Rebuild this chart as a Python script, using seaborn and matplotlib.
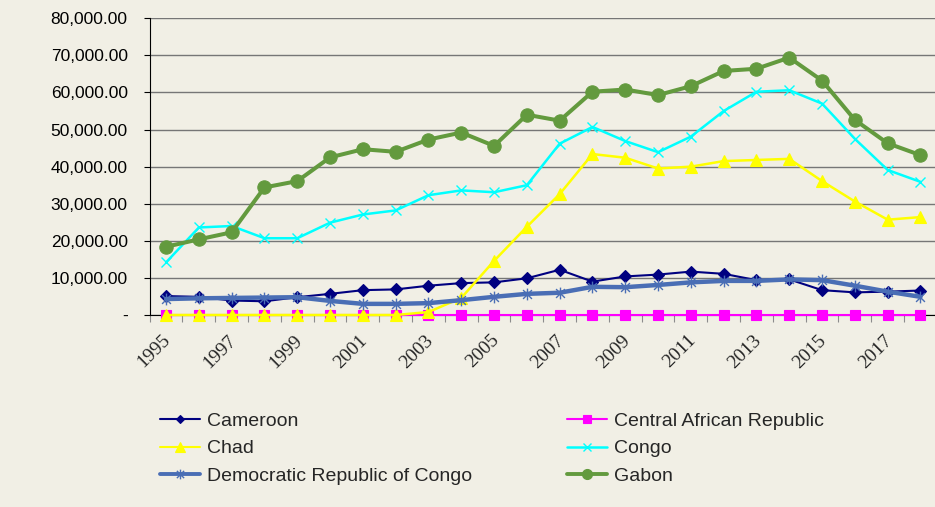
import matplotlib
matplotlib.use("Agg")
import matplotlib.pyplot as plt
import matplotlib.transforms as mtransforms
from matplotlib.lines import Line2D
from matplotlib.path import Path
from matplotlib.ticker import FuncFormatter, MultipleLocator
import pandas as pd
import seaborn as sns

years = list(range(1995, 2019))
cameroon = [5100, 4900, 3900, 3700, 4800, 5700, 6700, 6900, 7900, 8600, 8800, 9900,
            12200, 9000, 10400, 10900, 11700, 11100, 9400, 9600, 6700, 6100, 6300, 6600]
car = [0, 0, 0, 0, 0, 0, 0, 0, 0, 0, 0, 0,
       0, 0, 0, 0, 0, 0, 0, 0, 0, 0, 0, 0]
chad = [0, 0, 0, 0, 0, 0, 0, 0, 800, 4600, 14600, 23800,
        32600, 43400, 42400, 39500, 40000, 41500, 41800, 42100, 36100, 30600, 25700, 26400]
congo = [14200, 23600, 24000, 20700, 20700, 24900, 27100, 28200, 32300, 33600, 33100, 35000,
         46200, 50700, 46900, 43900, 48100, 55000, 60200, 60600, 57000, 47500, 39100, 35900]
drc = [4300, 4500, 4600, 4700, 4800, 3800, 3000, 3000, 3200, 4000, 4900, 5700,
       6000, 7600, 7500, 8100, 8800, 9200, 9200, 9600, 9400, 7900, 6300, 4900]
gabon = [18400, 20400, 22300, 34400, 36100, 42500, 44700, 44000, 47300, 49200, 45600, 54000,
         52400, 60200, 60800, 59300, 61700, 65800, 66400, 69400, 63200, 52600, 46300, 43100]

names = ["Cameroon", "Central African Republic", "Chad", "Congo",
         "Democratic Republic of Congo", "Gabon"]
values = [cameroon, car, chad, congo, drc, gabon]
legend_order = ["Cameroon", "Chad", "Democratic Republic of Congo",
                "Central African Republic", "Congo", "Gabon"]
year_labels = ["1995", "1997", "1999", "2001", "2003", "2005",
               "2007", "2009", "2011", "2013", "2015", "2017"]

star = Path([(0, -1), (0, 1), (-0.75, -0.75), (0.75, 0.75), (-0.75, 0.75), (0.75, -0.75)],
            [Path.MOVETO, Path.LINETO, Path.MOVETO, Path.LINETO, Path.MOVETO, Path.LINETO])

styles = {
    "Cameroon": dict(color="#000080", marker="D", lw=1.5, ms=6.0, mew=0.8, lms=4.0, llw=1.5),
    "Central African Republic": dict(color="#FF00FF", marker="s", lw=1.5, ms=7.8, mew=0.8, lms=6.0, llw=1.5),
    "Chad": dict(color="#FFFF00", marker="^", lw=1.8, ms=8.5, mew=0.8, lms=7.0, llw=1.5),
    "Congo": dict(color="#00FFFF", marker="x", lw=1.8, ms=7.8, mew=1.0, lms=6.0, llw=1.8),
    "Democratic Republic of Congo": dict(color="#4A6EB5", marker=star, lw=3.2, ms=8.5, mew=1.0, lms=7.0, llw=2.8),
    "Gabon": dict(color="#639A3E", marker="o", lw=2.9, ms=9.6, mew=0.8, lms=7.2, llw=2.8),
}

bg = "#F1EFE5"
sns.set_theme(style="white", rc={"axes.facecolor": bg, "figure.facecolor": bg})
plt.rcParams["font.family"] = ["Liberation Sans", "DejaVu Sans"]

fig = plt.figure(figsize=(9.35, 5.07), dpi=100)
ax = fig.add_axes([0.1601, 0.3787, 0.8419, 0.5852])
ax.set_facecolor(bg)

for name, vals in zip(names, values):
    st = styles[name]
    d = pd.DataFrame({"Year": years, "Value": vals})
    sns.lineplot(data=d, x="Year", y="Value", ax=ax, color=st["color"], marker=st["marker"],
                 linewidth=st["lw"], markersize=st["ms"], markeredgecolor=st["color"],
                 markerfacecolor=st["color"], markeredgewidth=st["mew"], legend=False,
                 zorder=3, clip_on=False)

ax.set_xlim(1994.5, 2018.5)
ax.set_ylim(0, 80000)
ax.yaxis.set_major_locator(MultipleLocator(10000))
ax.yaxis.set_major_formatter(FuncFormatter(lambda v, p: "-" if v == 0 else f"{v:,.2f}"))
ax.grid(axis="y", color="#767676", linewidth=1.0)
ax.grid(axis="x", visible=False)
ax.set_axisbelow(True)

ax.set_xticks([int(y) for y in year_labels], labels=year_labels,
              fontsize=14, fontfamily=["Liberation Serif", "DejaVu Serif"],
              rotation=45, ha="right", va="top")
ax.xaxis.set_minor_locator(MultipleLocator(1, offset=0.5))
ax.tick_params(axis="x", which="major", length=0, pad=12)
ax.tick_params(axis="x", which="minor", length=5, width=0.8, color="#8c8c8c", bottom=True)
ax.tick_params(axis="y", which="major", length=4, width=0.8, color="black", left=True,
               labelsize=12.5, pad=11.8, labelcolor="black")
ax.set_xlabel("")
ax.set_ylabel("")

for s in ["top", "right"]:
    ax.spines[s].set_visible(False)
for s in ["left", "bottom"]:
    ax.spines[s].set_color("black")
    ax.spines[s].set_linewidth(0.8)

handles = []
for name in legend_order:
    st = styles[name]
    handles.append(Line2D([], [], color=st["color"], marker=st["marker"], linewidth=st["llw"],
                          markersize=st["lms"], markeredgecolor=st["color"],
                          markerfacecolor=st["color"], markeredgewidth=st["mew"]))
fig.legend(handles, legend_order, loc="upper left", bbox_to_anchor=(160 / 935, 1 - 412 / 507),
           ncol=2, frameon=False, borderpad=0, borderaxespad=0, fontsize=14,
           handlelength=2.05, handletextpad=0.36, columnspacing=4.9, labelspacing=0.52)

fig.canvas.draw()
ax.get_ygridlines()[-1].set_visible(False)
ax.get_ygridlines()[0].set_visible(False)
offset = mtransforms.ScaledTranslation(8 / 100, 0, fig.dpi_scale_trans)
for lbl in ax.get_xticklabels():
    lbl.set_transform(lbl.get_transform() + offset)

fig.savefig("out.png", dpi=100, facecolor=bg)
